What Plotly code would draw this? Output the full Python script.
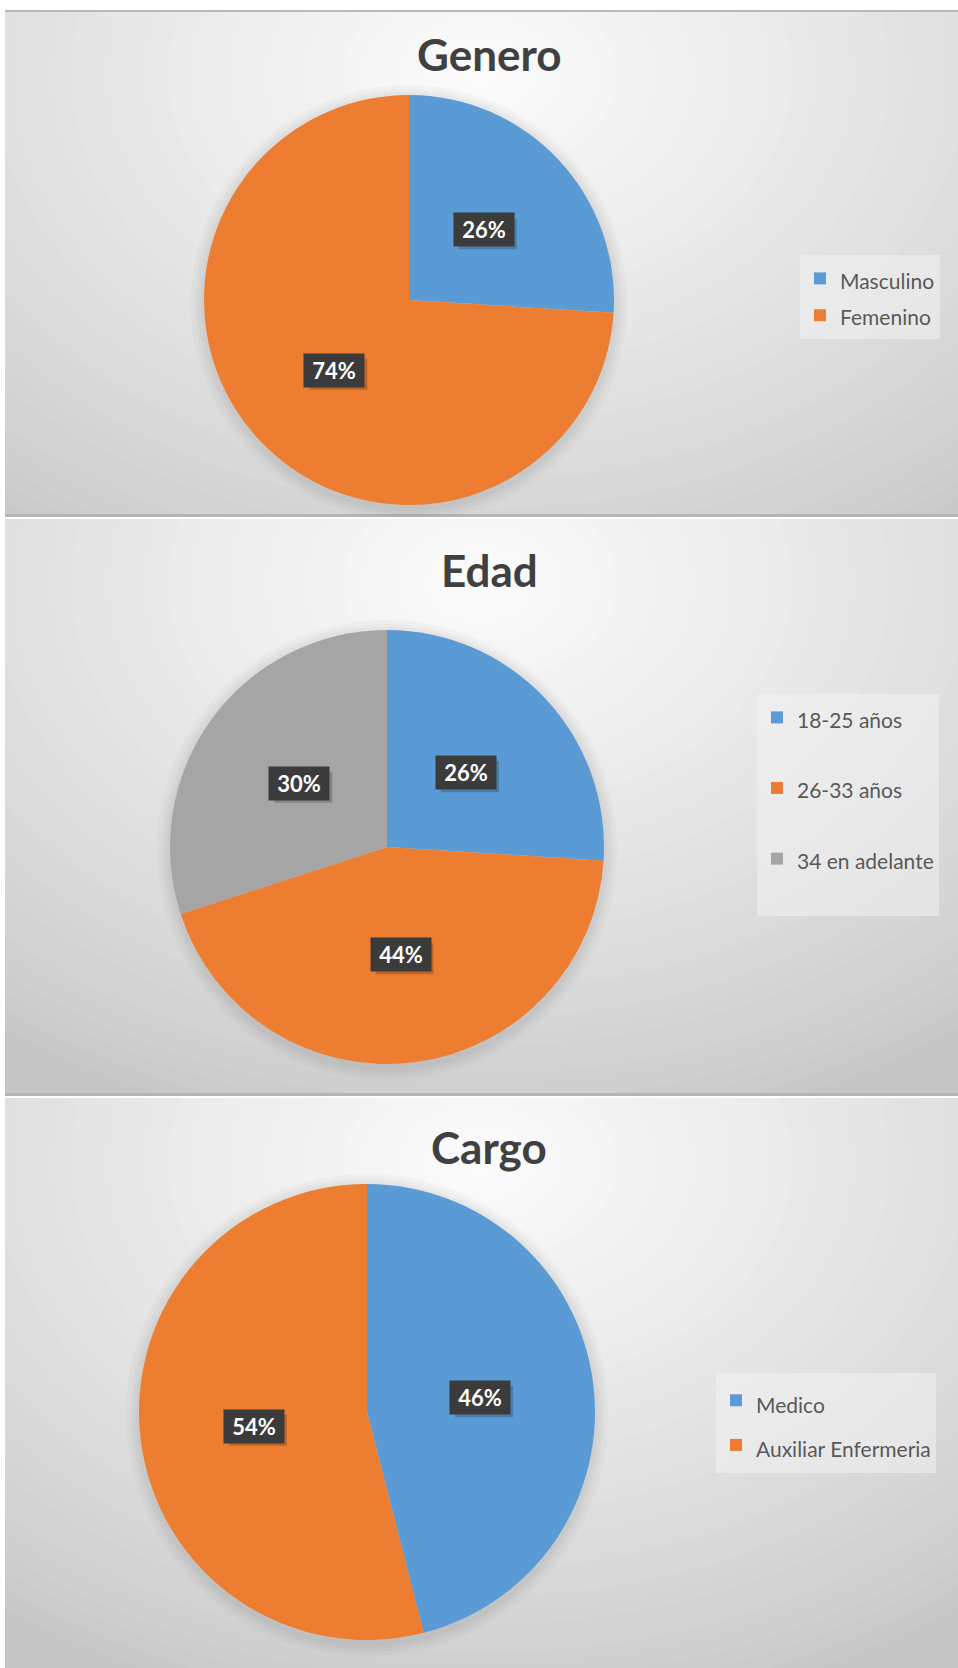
import math
import plotly.graph_objects as go

W, H = 958, 1668

# ---------------- data ----------------
titles = ["Genero", "Edad", "Cargo"]
genero_labels = ["Masculino", "Femenino"]
genero_values = [26, 74]
edad_labels = ["18-25 años", "26-33 años", "34 en adelante"]
edad_values = [26, 44, 30]
cargo_labels = ["Medico", "Auxiliar Enfermeria"]
cargo_values = [46, 54]

colors = ["#5B9BD5", "#ED7D31", "#A5A5A5"]

# ---------------- layout geometry (pixels) ----------------
panels = [(10, 517), (519, 1096), (1098, 1668)]       # top, bottom of each panel
pies = [(409, 300, 205), (387, 847, 217), (367, 1412, 228)]  # cx, cy, r
title_pos = [(489, 54), (489, 570), (489, 1147)]
legend_pos = [(800, 255), (757, 694), (716, 1373)]     # left, top
legend_fontsize = [26, 26, 32]                          # sets row spacing
TXT = 21                                                 # legend text size


def wrap(lbl, extra_line=False):
    s = f"<span style='font-size:{TXT}px'>{lbl}</span>"
    return s + ("<br> " if extra_line else "")


legend_labels = [[wrap(l) for l in genero_labels],
                 [wrap(l, True) for l in edad_labels],
                 [wrap(l) for l in cargo_labels]]
series = [genero_values, edad_values, cargo_values]
FONT = "Lato"

fig = go.Figure()
shapes = []
annotations = []

for i, (top, bot) in enumerate(panels):
    n = "" if i == 0 else str(i + 1)
    xa, ya = "x" + n, "y" + n
    fig.add_trace(go.Scatter(x=[None], y=[None], xaxis=xa, yaxis=ya,
                             showlegend=False, hoverinfo="skip"))
    fig.update_layout(**{
        "xaxis" + n: dict(domain=[5 / W, 1], range=[5, W], visible=False,
                          fixedrange=True, anchor=ya),
        "yaxis" + n: dict(domain=[1 - bot / H, 1 - top / H], range=[bot, top],
                          visible=False, fixedrange=True, anchor=xa),
    })
    # panel base
    shapes.append(dict(type="rect", xref=xa, yref=ya, x0=0, x1=W, y0=top - 5, y1=bot + 5,
                       fillcolor="rgb(198,198,198)", line_width=0, layer="below"))
    # radial gradient
    gcx, gcy = 480, top + 65
    RX, RY = 780, 560
    N = 40
    for k in range(N):
        frac = 1 - k / N
        c = int(round(200 + (252 - 200) * (1 - frac) ** 0.8))
        shapes.append(dict(type="circle", xref=xa, yref=ya,
                           x0=gcx - RX * frac, x1=gcx + RX * frac,
                           y0=gcy - RY * frac, y1=gcy + RY * frac,
                           fillcolor=f"rgb({c},{c},{c})", line_width=0, layer="below"))
    # panel borders
    if i < len(panels) - 1:
        shapes.append(dict(type="line", xref=xa, yref=ya, x0=0, x1=W, y0=bot - 1.5, y1=bot - 1.5,
                           line=dict(color="#b5b5b5", width=3), layer="below"))
    if i == 0:
        shapes.append(dict(type="line", xref=xa, yref=ya, x0=0, x1=W, y0=top + 1, y1=top + 1,
                           line=dict(color="#b9b9b9", width=2), layer="below"))
    # pie soft shadow
    cx, cy, r = pies[i]
    for d in [13, 9, 6, 3]:
        shapes.append(dict(type="circle", xref=xa, yref=ya,
                           x0=cx - r - d, x1=cx + r + d, y0=cy - r - d + 3, y1=cy + r + d + 3,
                           fillcolor="rgba(90,90,90,0.035)", line_width=0, layer="below"))

    # pie trace
    vals = series[i]
    lg = "legend" + n
    fig.add_trace(go.Pie(
        labels=legend_labels[i], values=vals, sort=False, direction="clockwise",
        rotation=0, textinfo="none", hoverinfo="percent",
        marker=dict(colors=colors[:len(vals)], line=dict(width=0)),
        domain=dict(x=[(cx - r) / W, (cx + r) / W], y=[1 - (cy + r) / H, 1 - (cy - r) / H]),
        legend=lg, showlegend=True,
    ))
    lx, ly = legend_pos[i]
    fig.update_layout(**{lg: dict(
        x=lx / W, y=1 - ly / H, xanchor="left", yanchor="top",
        bgcolor="rgba(242,242,242,0.55)", borderwidth=0,
        font=dict(family=FONT, size=legend_fontsize[i], color="#595959"),
        valign="top" if i == 1 else "middle",
        itemclick=False, itemdoubleclick=False,
    )})

    # title
    tx, ty = title_pos[i]
    annotations.append(dict(xref=xa, yref=ya, x=tx, y=ty, text=titles[i], showarrow=False,
                            font=dict(family=FONT, size=44, color="#404040", weight="bold"),
                            xanchor="center", yanchor="middle"))

    # data labels (dark boxes) at half radius along each slice's mid-angle
    total = sum(vals)
    cum = 0
    for v in vals:
        mid = (cum + v / 2) / total * 2 * math.pi
        cum += v
        px = cx + 0.5 * r * math.sin(mid)
        py = cy - 0.5 * r * math.cos(mid)
        txt = f"{round(100 * v / total)}%"
        shapes.append(dict(type="rect", xref=xa, yref=ya,
                           x0=px - 29 + 4, x1=px + 29 + 4, y0=py - 15.5 + 4, y1=py + 15.5 + 4,
                           fillcolor="rgba(0,0,0,0.2)", line_width=0, layer="above"))
        annotations.append(dict(xref=xa, yref=ya, x=px, y=py, text=txt,
                                showarrow=False, width=58, height=31,
                                bgcolor="#3b3b3b",
                                font=dict(family=FONT, size=22, color="white", weight="bold")))

fig.update_layout(
    width=W, height=H, autosize=False,
    margin=dict(l=0, r=0, t=0, b=0, autoexpand=False),
    paper_bgcolor="white", plot_bgcolor="rgba(0,0,0,0)",
    shapes=shapes, annotations=annotations,
    showlegend=True,
)

fig.write_html("out.html", config={"displayModeBar": False},
               post_script="document.body.style.margin='0px';")
